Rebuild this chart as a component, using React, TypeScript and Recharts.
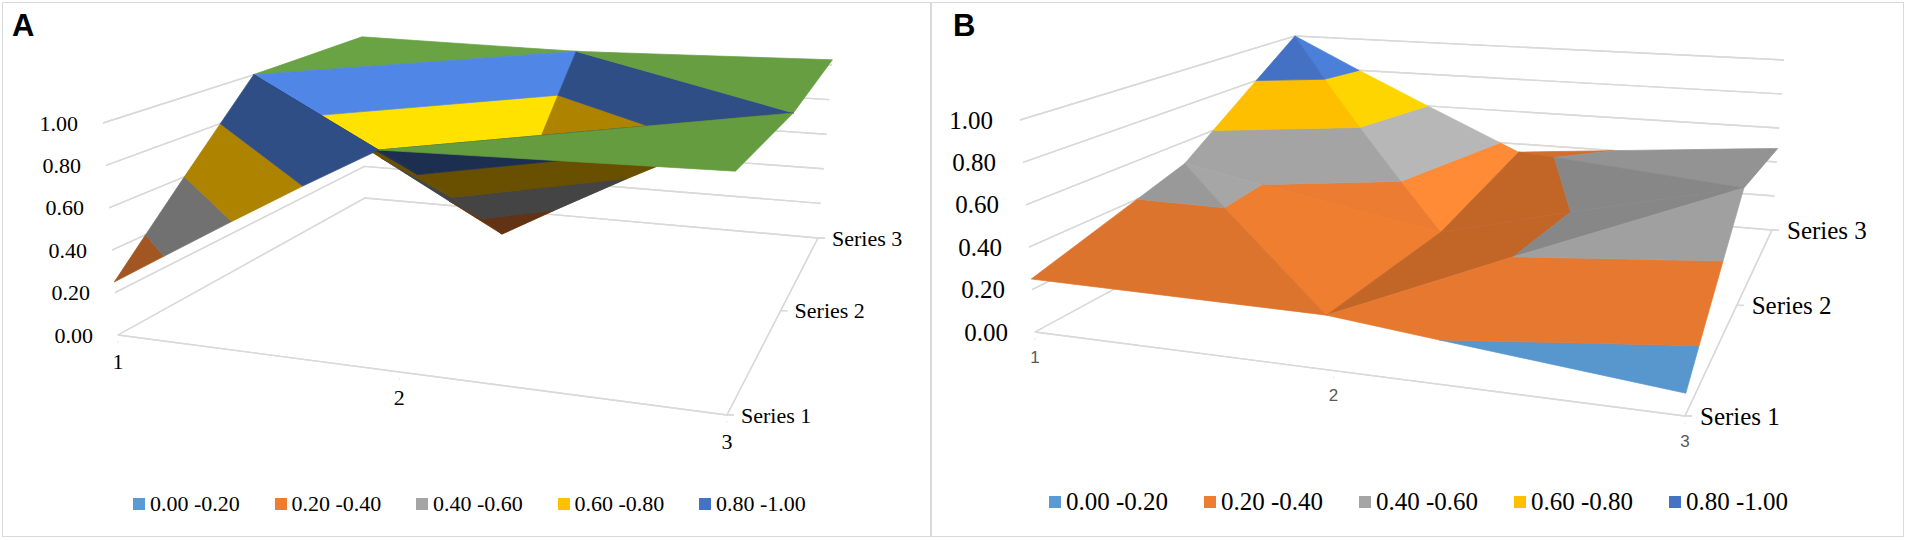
import React from "react";
import { ComposedChart, Area, Scatter, XAxis, YAxis } from "recharts";

type Pt = [number, number];
type V3 = { u: number; v: number; z: number };

const PAGE_W = 1907;
const PAGE_H = 541;

const categories = ["1", "2", "3"];
const seriesNames = ["Series 1", "Series 2", "Series 3"];
const valueTicks = [0, 0.2, 0.4, 0.6, 0.8, 1.0];
const bandEdges = [0, 0.2, 0.4, 0.6, 0.8, 1.0, 1.2];
const bandColors = ["#5B9BD5", "#ED7D31", "#A5A5A5", "#FFC000", "#4472C4", "#70AD47"];
const legendLabels = ["0.00 -0.20", "0.20 -0.40", "0.40 -0.60", "0.60 -0.80", "0.80 -1.00"];

// panel A, one list per series, indexed by category 1..3
const seriesA1 = [0.25, 1.0, 1.06];
const seriesA2 = [1.0, 0.25, 1.0];
const seriesA3 = [1.02, 1.0, 1.03];

// panel B
const seriesB1 = [0.25, 0.25, 0.1];
const seriesB2 = [0.48, 0.23, 0.6];
const seriesB3 = [1.0, 0.35, 0.48];

interface View {
  x0: number;
  x1: number;
  floor: Pt[]; // (cat first, ser first), (cat last, ser first), (cat last, ser last), (cat first, ser last)
  top: Pt[]; // same corners at value 1.00
  light: number;
  valueFont: number;
  valueGap: number;
  catFont: number;
  catFamily: string;
  catColor: string;
  catOffset: number;
  seriesFont: number;
  seriesGap: number;
}

const viewA: View = {
  x0: 0,
  x1: 931,
  floor: [[118, 335], [727, 415], [818, 238], [365, 198]],
  top: [[103, 123], [735, 185], [832, 65], [362, 40]],
  light: 0.65,
  valueFont: 22,
  valueGap: 25,
  catFont: 22,
  catFamily: "'Liberation Serif', serif",
  catColor: "#000",
  catOffset: 26,
  seriesFont: 22,
  seriesGap: 14,
};

const viewB: View = {
  x0: 931,
  x1: 1907,
  floor: [[1035, 332], [1685, 416], [1772, 230], [1297, 190]],
  top: [[1020, 120], [1693, 188], [1784, 60], [1295, 36]],
  light: 0.4,
  valueFont: 25,
  valueGap: 27,
  catFont: 17,
  catFamily: "'Liberation Sans', Arial, sans-serif",
  catColor: "#595959",
  catOffset: 25,
  seriesFont: 25,
  seriesGap: 15,
};

// world lengths, only used for the lighting
const LX = 629;
const LY = 357;
const LZ = 247;
const UNDERSIDE = 0.41;

function quadMap(q: Pt[]) {
  const [[x0, y0], [x1, y1], [x2, y2], [x3, y3]] = q;
  const dx1 = x1 - x2, dx2 = x3 - x2, dx3 = x0 - x1 + x2 - x3;
  const dy1 = y1 - y2, dy2 = y3 - y2, dy3 = y0 - y1 + y2 - y3;
  const den = dx1 * dy2 - dy1 * dx2;
  const g = (dx3 * dy2 - dy3 * dx2) / den;
  const h = (dx1 * dy3 - dy1 * dx3) / den;
  const a = x1 - x0 + g * x1, b = x3 - x0 + h * x3, c = x0;
  const d = y1 - y0 + g * y1, e = y3 - y0 + h * y3, f = y0;
  return (u: number, v: number): Pt => {
    const w = g * u + h * v + 1;
    return [(a * u + b * v + c) / w, (d * u + e * v + f) / w];
  };
}

function makeProjector(view: View) {
  const fl = quadMap(view.floor);
  const tp = quadMap(view.top);
  return (u: number, v: number, z: number): Pt => {
    const a = fl(u, v);
    const b = tp(u, v);
    return [a[0] + (b[0] - a[0]) * z, a[1] + (b[1] - a[1]) * z];
  };
}

function cross2(a: Pt, b: Pt, c: Pt) {
  return (b[0] - a[0]) * (c[1] - a[1]) - (b[1] - a[1]) * (c[0] - a[0]);
}

function polyArea(p: Pt[]) {
  let s = 0;
  for (let i = 0; i < p.length; i++) {
    const q = p[(i + 1) % p.length];
    s += p[i][0] * q[1] - q[0] * p[i][1];
  }
  return Math.abs(s) / 2;
}

function clip(poly: V3[], level: number, above: boolean): V3[] {
  const out: V3[] = [];
  for (let i = 0; i < poly.length; i++) {
    const p = poly[i];
    const q = poly[(i + 1) % poly.length];
    const pin = above ? p.z >= level : p.z <= level;
    const qin = above ? q.z >= level : q.z <= level;
    if (pin) out.push(p);
    if (pin !== qin) {
      const t = (level - p.z) / (q.z - p.z);
      out.push({ u: p.u + t * (q.u - p.u), v: p.v + t * (q.v - p.v), z: level });
    }
  }
  return out;
}

// polygon -> range rows for an <Area>
function toRange(poly: Pt[]) {
  const xs = Array.from(new Set(poly.map((p) => p[0]))).sort((a, b) => a - b);
  return xs.map((x) => {
    let lo = Infinity;
    let hi = -Infinity;
    for (let k = 0; k < poly.length; k++) {
      const p = poly[k];
      const q = poly[(k + 1) % poly.length];
      if (x < Math.min(p[0], q[0]) - 1e-9 || x > Math.max(p[0], q[0]) + 1e-9) continue;
      if (Math.abs(q[0] - p[0]) < 1e-9) {
        lo = Math.min(lo, p[1], q[1]);
        hi = Math.max(hi, p[1], q[1]);
      } else {
        const y = p[1] + ((x - p[0]) / (q[0] - p[0])) * (q[1] - p[1]);
        lo = Math.min(lo, y);
        hi = Math.max(hi, y);
      }
    }
    return { x, r: [lo, hi] };
  });
}

// polyline -> zero-height range rows, so it can be drawn as an Area stroke
const lineRows = (pts: Pt[]) => pts.map((p) => ({ x: p[0], r: [p[1], p[1]] }));

function shade(hex: string, f: number) {
  const n = parseInt(hex.slice(1), 16);
  const ch = [(n >> 16) & 255, (n >> 8) & 255, n & 255].map((c) =>
    Math.max(0, Math.min(255, Math.round(c * f)))
  );
  return `rgb(${ch[0]},${ch[1]},${ch[2]})`;
}

function surfacePieces(rows: number[][], view: View) {
  const proj = makeProjector(view);
  const floor = quadMap(view.floor);
  const ns = rows.length;
  const nc = rows[0].length;
  const P = (c: number, s: number): V3 => ({ u: c / (nc - 1), v: s / (ns - 1), z: rows[s][c] });
  const tris: V3[][] = [];
  for (let c = 0; c < nc - 1; c++) {
    for (let s = 0; s < ns - 1; s++) {
      const p00 = P(c, s), p10 = P(c + 1, s), p01 = P(c, s + 1), p11 = P(c + 1, s + 1);
      if (p00.z + p11.z >= p10.z + p01.z) {
        tris.push([p00, p10, p11], [p00, p11, p01]);
      } else {
        tris.push([p00, p10, p01], [p10, p11, p01]);
      }
    }
  }
  const faces = tris.map((tri) => {
    const sp = tri.map((p) => proj(p.u, p.v, p.z));
    const fp = tri.map((p) => floor(p.u, p.v));
    const under = Math.sign(cross2(sp[0], sp[1], sp[2])) !== Math.sign(cross2(fp[0], fp[1], fp[2]));
    const w = tri.map((p) => [p.u * LX, p.v * LY, p.z * LZ]);
    const a = [w[1][0] - w[0][0], w[1][1] - w[0][1], w[1][2] - w[0][2]];
    const b = [w[2][0] - w[0][0], w[2][1] - w[0][1], w[2][2] - w[0][2]];
    let n = [a[1] * b[2] - a[2] * b[1], a[2] * b[0] - a[0] * b[2], a[0] * b[1] - a[1] * b[0]];
    const len = Math.hypot(n[0], n[1], n[2]) || 1;
    n = n.map((x) => x / len);
    if (n[2] < 0) n = n.map((x) => -x);
    const f = under ? UNDERSIDE : Math.max(0.3, Math.min(1.2, 0.93 + view.light * n[0]));
    const cu = (tri[0].u + tri[1].u + tri[2].u) / 3;
    const cv = (tri[0].v + tri[1].v + tri[2].v) / 3;
    const cz = (tri[0].z + tri[1].z + tri[2].z) / 3;
    return { tri, f, depth: cv - 0.45 * cu - 0.36 * cz };
  });
  faces.sort((a, b) => b.depth - a.depth);
  const pieces: { data: { x: number; r: number[] }[]; fill: string }[] = [];
  faces.forEach((face) => {
    for (let k = 0; k < bandEdges.length - 1; k++) {
      const poly = clip(clip(face.tri, bandEdges[k], true), bandEdges[k + 1], false);
      if (poly.length < 3) continue;
      const pts = poly.map((p) => proj(p.u, p.v, p.z));
      if (polyArea(pts) < 0.5) continue;
      pieces.push({ data: toRange(pts), fill: shade(bandColors[k], face.f) });
    }
  });
  return pieces;
}

function SurfacePanel({ view, rows }: { view: View; rows: number[][] }) {
  const proj = makeProjector(view);
  const pieces = surfacePieces(rows, view);
  const nc = categories.length;
  const ns = seriesNames.length;

  const guides: { x: number; r: number[] }[][] = [];
  valueTicks.forEach((z) => guides.push(lineRows([proj(0, 0, z), proj(0, 1, z), proj(1, 1, z)])));
  guides.push(lineRows([proj(0, 0, 0), proj(1, 0, 0)]));
  guides.push(lineRows([proj(1, 0, 0), proj(1, 1, 0)]));
  categories.forEach((_, i) => {
    const p = proj(i / (nc - 1), 0, 0);
    guides.push([
      { x: p[0] - 0.4, r: [p[1], p[1] + 7] },
      { x: p[0] + 0.4, r: [p[1], p[1] + 7] },
    ]);
  });
  seriesNames.forEach((_, j) => {
    const p = proj(1, j / (ns - 1), 0);
    guides.push(lineRows([p, [p[0] + 7, p[1]]]));
  });

  const valueLabels = valueTicks.map((z) => {
    const p = proj(0, 0, z);
    return { x: p[0] - view.valueGap, y: p[1], text: z.toFixed(2) };
  });
  const catLabels = categories.map((c, i) => {
    const p = proj(i / (nc - 1), 0, 0);
    return { x: p[0], y: p[1] + view.catOffset, text: c };
  });
  const serLabels = seriesNames.map((s, j) => {
    const p = proj(1, j / (ns - 1), 0);
    return { x: p[0] + view.seriesGap, y: p[1], text: s };
  });

  const serif = "'Liberation Serif', 'Times New Roman', serif";
  const textShape = (anchor: string, size: number, family: string, color: string) => (props: any) =>
    (
      <text
        x={props.cx}
        y={props.cy}
        textAnchor={anchor}
        dominantBaseline="central"
        fontSize={size}
        fontFamily={family}
        fill={color}
      >
        {props.payload.text}
      </text>
    );

  return (
    <div style={{ position: "absolute", left: view.x0, top: 0 }}>
      <ComposedChart width={view.x1 - view.x0} height={PAGE_H} margin={{ top: 0, right: 0, bottom: 0, left: 0 }}>
        <XAxis type="number" dataKey="x" domain={[view.x0, view.x1]} hide allowDataOverflow />
        <YAxis type="number" dataKey="y" domain={[0, PAGE_H]} reversed hide allowDataOverflow />
        {guides.map((d, i) => (
          <Area
            key={`g${i}`}
            data={d}
            dataKey="r"
            type="linear"
            fill="none"
            stroke="#D9D9D9"
            strokeWidth={1.4}
            dot={false}
            activeDot={false}
            isAnimationActive={false}
          />
        ))}
        {pieces.map((p, i) => (
          <Area
            key={`p${i}`}
            data={p.data}
            dataKey="r"
            type="linear"
            fill={p.fill}
            fillOpacity={1}
            stroke={p.fill}
            strokeWidth={0.7}
            dot={false}
            activeDot={false}
            isAnimationActive={false}
          />
        ))}
        <Scatter data={valueLabels} isAnimationActive={false} shape={textShape("end", view.valueFont, serif, "#000")} />
        <Scatter
          data={catLabels}
          isAnimationActive={false}
          shape={textShape("middle", view.catFont, view.catFamily, view.catColor)}
        />
        <Scatter data={serLabels} isAnimationActive={false} shape={textShape("start", view.seriesFont, serif, "#000")} />
      </ComposedChart>
    </div>
  );
}

function LegendRow({ left, top, size, step }: { left: number; top: number; size: number; step: number }) {
  return (
    <div style={{ position: "absolute", left, top, display: "flex", alignItems: "center", height: 28 }}>
      {legendLabels.map((label, i) => (
        <div key={label} style={{ display: "flex", alignItems: "center", width: step }}>
          <span style={{ display: "inline-block", width: 12, height: 12, background: bandColors[i], marginRight: 5 }} />
          <span style={{ fontFamily: "'Liberation Serif', serif", fontSize: size, lineHeight: "28px", color: "#000" }}>
            {label}
          </span>
        </div>
      ))}
    </div>
  );
}

export default function App() {
  const rowsA = [seriesA1, seriesA2, seriesA3];
  const rowsB = [seriesB1, seriesB2, seriesB3];
  const titleStyle: React.CSSProperties = {
    position: "absolute",
    top: 8,
    fontFamily: "'Liberation Sans', Arial, sans-serif",
    fontWeight: 700,
    fontSize: 31,
    lineHeight: "36px",
  };
  return (
    <div style={{ position: "fixed", left: 0, top: 0, width: PAGE_W, height: PAGE_H, background: "#fff", overflow: "hidden" }}>
      <div
        style={{
          position: "absolute",
          left: 2,
          top: 2,
          width: PAGE_W - 5,
          height: PAGE_H - 6,
          border: "1.5px solid #D9D9D9",
          boxSizing: "border-box",
        }}
      />
      <div style={{ position: "absolute", left: 930, top: 2, width: 1.5, height: PAGE_H - 6, background: "#D9D9D9" }} />
      <SurfacePanel view={viewA} rows={rowsA} />
      <SurfacePanel view={viewB} rows={rowsB} />
      <div style={{ ...titleStyle, left: 12 }}>A</div>
      <div style={{ ...titleStyle, left: 953 }}>B</div>
      <LegendRow left={133} top={490} size={22} step={141.5} />
      <LegendRow left={1049} top={488} size={25} step={155} />
    </div>
  );
}
